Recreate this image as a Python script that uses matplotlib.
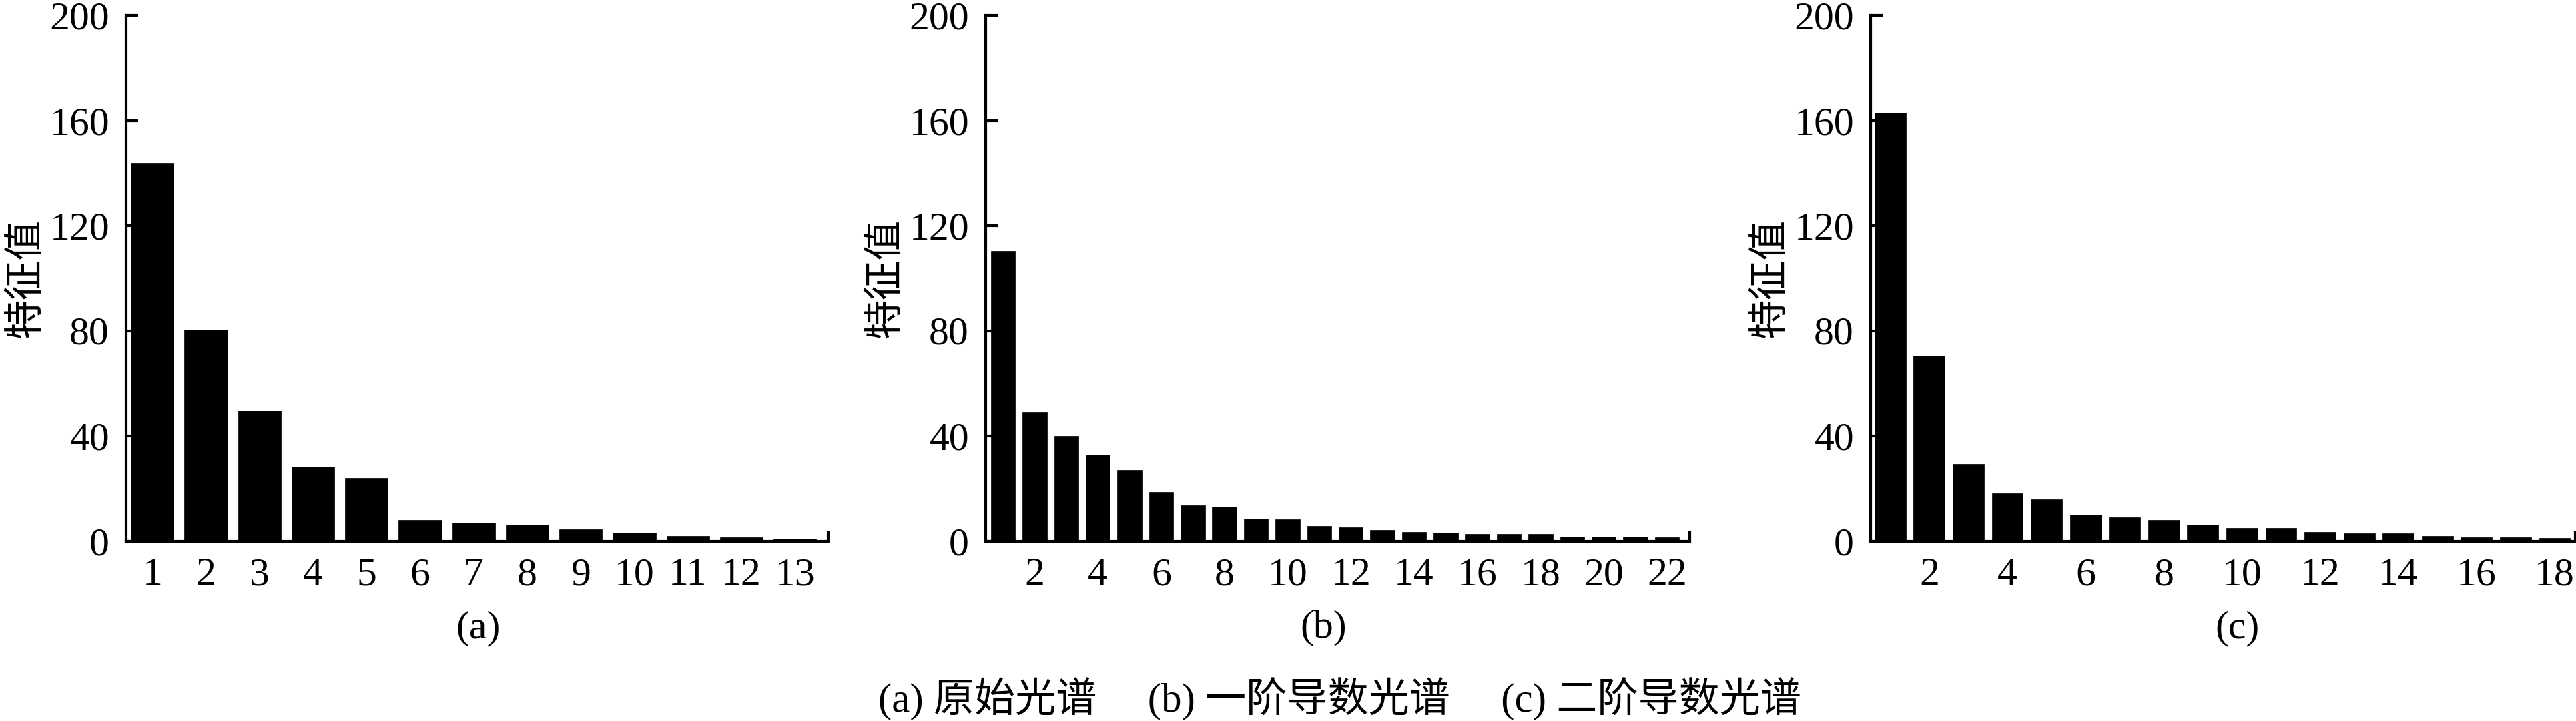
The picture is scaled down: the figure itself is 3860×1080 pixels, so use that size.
import numpy as np
import matplotlib
matplotlib.use("Agg")
import matplotlib.pyplot as plt

plt.rcParams['font.family'] = ['Liberation Serif', 'Noto Sans CJK SC']

# eigenvalues
vals_a = [144.0, 80.3, 49.6, 28.4, 24.1, 7.9, 7.0, 6.3, 4.5, 3.2, 1.9, 1.3, 1.0]
vals_b = [110.3, 49.1, 39.9, 32.9, 27.0, 18.7, 13.7, 13.1, 8.5, 8.2, 5.8, 5.2,
          4.1, 3.5, 3.1, 2.6, 2.6, 2.6, 1.7, 1.7, 1.6, 1.3]
vals_c = [163.0, 70.4, 29.4, 18.2, 16.0, 10.1, 9.0, 8.0, 6.1, 5.0, 5.0, 3.4,
          2.8, 2.8, 2.0, 1.5, 1.5, 1.2]

xticks_a = list(range(1, 14))
xticks_b = list(range(2, 23, 2))
xticks_c = list(range(2, 19, 2))
yticks = [0, 40, 80, 120, 160, 200]
ylabel = '特征值'
sub_labels = ['(a)', '(b)', '(c)']
caption = '(a) 原始光谱\u3000 (b) 一阶导数光谱\u3000 (c) 二阶导数光谱'

W, H = 3860, 1080
fig = plt.figure(figsize=(W / 100, H / 100), dpi=100)

panels = [
    # left px, right px, values, ticks, xlim, bar width, label x
    (189, 1241, vals_a, xticks_a, (0.51, 13.62), 0.8, 717),
    (1477, 2532, vals_b, xticks_b, (0.45, 22.72), 0.77, 1983),
    (2803, 3859, vals_c, xticks_c, (0.5, 18.53), 0.8, 3353),
]
y_bot, y_top = 810.5, 23

for left, right, vals, ticks, xlim, bw, lx in panels:
    ax = fig.add_axes([left / W, (H - y_bot) / H, (right - left) / W, (y_bot - y_top) / H])
    x = np.arange(1, len(vals) + 1)
    ax.bar(x, vals, width=bw, color='black', edgecolor='black', linewidth=0.5)
    ax.set_xlim(*xlim)
    ax.set_ylim(0, 200)
    ax.set_yticks(yticks)
    ax.set_xticks(ticks)
    ax.set_xticks([xlim[1]], minor=True)
    for s in ['top', 'right']:
        ax.spines[s].set_visible(False)
    for s in ['left', 'bottom']:
        ax.spines[s].set_linewidth(3)
    ax.tick_params(axis='y', direction='in', length=13, width=3, labelsize=43, pad=18)
    ax.tick_params(axis='x', which='major', length=0, labelsize=43, pad=18)
    ax.tick_params(axis='x', which='minor', direction='in', length=11, width=3)
    ax.set_ylabel(ylabel, fontsize=43, family=['Noto Sans CJK SC'])
    ax.yaxis.set_label_coords(-120 / (right - left), 0.5)
    fig.text(lx / W, 1 - 941 / H, sub_labels[panels.index((left, right, vals, ticks, xlim, bw, lx))],
             ha='center', va='center', fontsize=43)

fig.text(2007 / W, 1 - 1047 / H, caption, ha='center', va='center', fontsize=44)

fig.savefig('out.png', dpi=100, facecolor='white')
